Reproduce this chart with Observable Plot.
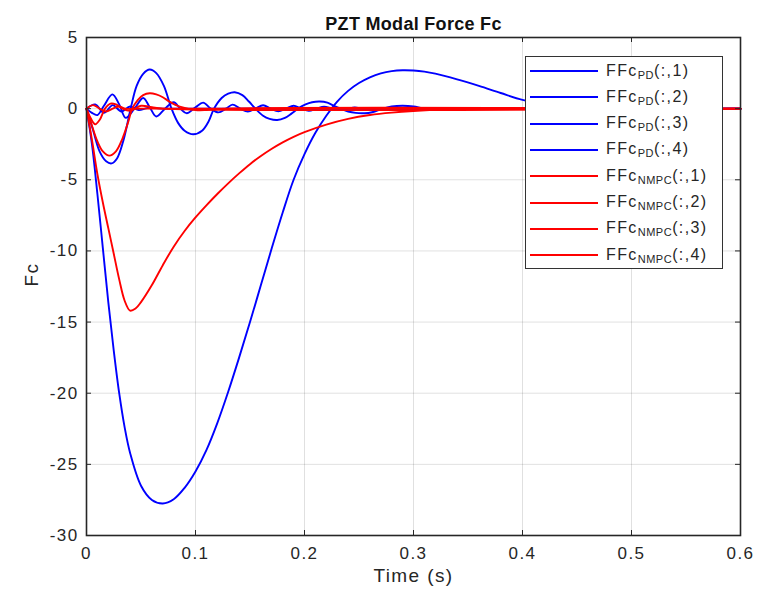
<!DOCTYPE html>
<html>
<head>
<meta charset="utf-8">
<script src="https://cdn.jsdelivr.net/npm/d3@7"></script>
<script src="https://cdn.jsdelivr.net/npm/@observablehq/plot@0.6"></script>
<style>
  body { margin: 0; background: #fff; font-family: "Liberation Sans", Arial, sans-serif; }
  #wrap { position: relative; width: 758px; height: 600px; }
  #legend { position: absolute; left: 525px; top: 56px; width: 198px; height: 213px;
            border: 1.5px solid #333; background: #fff; box-sizing: border-box; }
  .row { position: absolute; left: 0; height: 26px; display: flex; align-items: center; }
  .row svg { margin-left: 4px; margin-right: 8px; }
  .row span { font-size: 16px; letter-spacing: 1.4px; color: #262626; white-space: nowrap; }
  .row sub { font-size: 11px; letter-spacing: 0.5px; vertical-align: -3px; }
</style>
</head>
<body>
<div id="wrap"></div>
<script>
// ---- data ----
const xTicks = [0, 0.1, 0.2, 0.3, 0.4, 0.5, 0.6];
const yTicks = [-30, -25, -20, -15, -10, -5, 0, 5];
const titleText = "PZT Modal Force Fc";
const xLabel = "Time (s)";
const yLabel = "Fc";

const pd1 = [[0,0],[0.005,-2.5],[0.01,-6.0],[0.015,-9.8],[0.02,-13.6],[0.025,-17.0],[0.03,-20.0],[0.035,-22.4],[0.04,-24.2],[0.05,-26.5],[0.06,-27.5],[0.07,-27.75],[0.08,-27.45],[0.09,-26.65],[0.1,-25.5],[0.11,-24.0],[0.12,-22.1],[0.13,-19.9],[0.14,-17.5],[0.15,-15.0],[0.16,-12.4],[0.17,-9.8],[0.18,-7.3],[0.19,-5.0],[0.2,-3.2],[0.21,-1.7],[0.22,-0.5],[0.23,0.5],[0.24,1.25],[0.25,1.8],[0.26,2.2],[0.27,2.48],[0.28,2.64],[0.29,2.7],[0.3,2.68],[0.31,2.6],[0.32,2.46],[0.34,2.06],[0.36,1.6],[0.38,1.1],[0.4,0.62],[0.42,0.3],[0.44,0.1],[0.46,0.0],[0.5,-0.08],[0.55,-0.04],[0.6,0]];
const pd2 = [[0,0],[0.006,-1.5],[0.012,-3.0],[0.018,-3.7],[0.023,-3.85],[0.028,-3.5],[0.034,-2.2],[0.0405,0],[0.046,1.6],[0.052,2.45],[0.058,2.75],[0.064,2.5],[0.071,1.6],[0.078,0],[0.084,-1.0],[0.09,-1.55],[0.098,-1.8],[0.106,-1.55],[0.112,-0.9],[0.117,0],[0.124,0.75],[0.13,1.05],[0.136,1.15],[0.143,0.95],[0.149,0.5],[0.155,0],[0.162,-0.5],[0.168,-0.72],[0.175,-0.8],[0.182,-0.65],[0.188,-0.35],[0.194,0],[0.201,0.3],[0.207,0.45],[0.214,0.5],[0.221,0.42],[0.227,0.2],[0.233,0],[0.24,-0.2],[0.247,-0.3],[0.255,-0.32],[0.262,-0.25],[0.268,-0.1],[0.272,0],[0.28,0.15],[0.29,0.2],[0.3,0.15],[0.31,0],[0.33,-0.1],[0.35,0],[0.37,0.05],[0.4,0],[0.6,0]];
const pd3 = [[0,0],[0.005,-0.3],[0.01,-0.45],[0.016,0.2],[0.0237,1.0],[0.03,0.3],[0.036,-0.65],[0.044,0],[0.052,0.75],[0.058,0.1],[0.064,-0.55],[0.072,0],[0.08,0.45],[0.086,0],[0.092,-0.32],[0.1,0.1],[0.107,0.42],[0.114,0],[0.121,-0.26],[0.128,0],[0.134,0.28],[0.141,0],[0.148,-0.2],[0.155,0],[0.162,0.24],[0.169,0],[0.176,-0.18],[0.183,0],[0.19,0.2],[0.197,0],[0.204,-0.15],[0.211,0],[0.218,0.14],[0.225,0],[0.232,-0.1],[0.24,0],[0.246,0.08],[0.253,0],[0.26,-0.06],[0.27,0],[0.3,0],[0.6,0]];
const pd4 = [[0,0],[0.008,0.3],[0.016,-0.3],[0.024,0.25],[0.032,-0.2],[0.04,0.15],[0.048,-0.1],[0.056,0.05],[0.07,0],[0.6,0]];
const nmpc1 = [[0,0],[0.005,-2.2],[0.01,-4.6],[0.015,-6.6],[0.02,-8.4],[0.025,-10.2],[0.03,-12.0],[0.035,-13.5],[0.04,-14.2],[0.045,-14.05],[0.05,-13.6],[0.06,-12.4],[0.07,-11.0],[0.08,-9.7],[0.09,-8.6],[0.1,-7.65],[0.11,-6.8],[0.12,-6.0],[0.13,-5.25],[0.14,-4.55],[0.15,-3.9],[0.16,-3.33],[0.17,-2.82],[0.18,-2.37],[0.19,-1.98],[0.2,-1.65],[0.22,-1.12],[0.24,-0.72],[0.26,-0.45],[0.28,-0.28],[0.3,-0.17],[0.33,-0.07],[0.36,-0.03],[0.4,0],[0.5,0],[0.6,0]];
const nmpc2 = [[0,0],[0.005,-1.2],[0.01,-2.3],[0.015,-3.0],[0.021,-3.3],[0.027,-3.0],[0.033,-2.1],[0.038,-1.0],[0.042,0],[0.047,0.6],[0.052,0.95],[0.058,1.08],[0.064,1.0],[0.07,0.8],[0.076,0.5],[0.082,0.25],[0.09,0.05],[0.1,-0.1],[0.11,-0.1],[0.13,0],[0.6,0]];
const nmpc3 = [[0,0],[0.004,-0.7],[0.008,-1.1],[0.012,-0.8],[0.017,0],[0.022,0.35],[0.027,0.3],[0.033,0],[0.04,-0.15],[0.05,0.2],[0.06,0.1],[0.07,0],[0.6,0]];
const nmpc4 = [[0,0],[0.006,0.25],[0.012,0],[0.018,-0.2],[0.024,0],[0.03,0.15],[0.036,0],[0.05,0],[0.6,0]];

const seriesNames = ["PD1","PD2","PD3","PD4","NMPC1","NMPC2","NMPC3","NMPC4"];
const seriesData = [pd1, pd2, pd3, pd4, nmpc1, nmpc2, nmpc3, nmpc4];
const seriesColors = ["#0000ff","#0000ff","#0000ff","#0000ff","#ff0000","#ff0000","#ff0000","#ff0000"];
const legendBase = ["PD","PD","PD","PD","NMPC","NMPC","NMPC","NMPC"];
const legendIdx = ["1","2","3","4","1","2","3","4"];

// ---- plot ----
const rows = seriesNames.flatMap((s, i) => seriesData[i].map(([t, v]) => ({s, t, v})));
const W = 758, H = 600, mT = 37, mB = 65, mL = 86, mR = 18;
const fh = H - mT - mB, fw = W - mL - mR;

const lines = seriesNames.map((s, i) =>
  Plot.line(rows.filter(d => d.s === s), {x: "t", y: "v", stroke: seriesColors[i], strokeWidth: 1.9, curve: "catmull-rom"})
);

const chart = Plot.plot({
  width: W, height: H,
  marginTop: mT, marginBottom: mB, marginLeft: mL, marginRight: mR,
  style: {fontFamily: "'Liberation Sans', Arial, sans-serif", fontSize: "17px", color: "#262626", background: "#fff", letterSpacing: "1.4px"},
  x: {domain: [0, 0.6]},
  y: {domain: [-30, 5]},
  marks: [
    Plot.gridX(xTicks, {stroke: "#000", strokeOpacity: 0.12}),
    Plot.gridY(yTicks, {stroke: "#000", strokeOpacity: 0.12}),
    Plot.axisX(xTicks, {tickSize: 0, tickPadding: 11, tickFormat: d => String(d), label: null, fontSize: 17}),
    Plot.axisY(yTicks, {tickSize: 0, tickPadding: 8, tickFormat: d => String(d), label: null, fontSize: 17}),
    ...lines,
    Plot.ruleX(xTicks, {x: d => d, insetTop: fh - 5, stroke: "#262626"}),
    Plot.ruleX(xTicks, {x: d => d, insetBottom: fh - 5, stroke: "#262626"}),
    Plot.ruleY(yTicks, {y: d => d, insetRight: fw - 5, stroke: "#262626"}),
    Plot.ruleY(yTicks, {y: d => d, insetLeft: fw - 5, stroke: "#262626"}),
    Plot.frame({stroke: "#262626", strokeWidth: 1.6}),
    Plot.text([titleText], {frameAnchor: "top", dy: -20, fontWeight: "bold", fontSize: 18, fill: "#111", className: "title-text"}),
    Plot.text([xLabel], {frameAnchor: "bottom", dy: 46, fontSize: 19, fill: "#262626"}),
    Plot.text([yLabel], {frameAnchor: "left", dx: -55, rotate: -90, fontSize: 19, fill: "#262626"})
  ]
});
// title without the extra letter spacing
d3.select(chart).selectAll("text").filter(function() { return this.textContent === titleText; })
  .style("letter-spacing", "0.3px");

const wrap = document.getElementById("wrap");
wrap.appendChild(chart);

// ---- legend ----
const leg = document.createElement("div");
leg.id = "legend";
seriesNames.forEach((s, i) => {
  const r = document.createElement("div");
  r.className = "row";
  r.style.top = (1 + i * 26.3) + "px";
  r.innerHTML = `<svg width="68" height="6"><line x1="0" x2="68" y1="3" y2="3" stroke="${seriesColors[i]}" stroke-width="2"/></svg>` +
    `<span>FFc<sub>${legendBase[i]}</sub>(:,${legendIdx[i]})</span>`;
  leg.appendChild(r);
});
wrap.appendChild(leg);
</script>
</body>
</html>
